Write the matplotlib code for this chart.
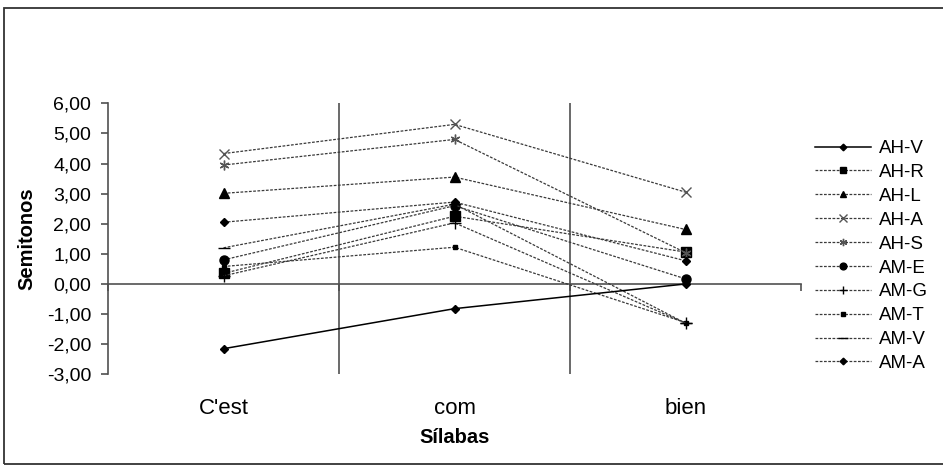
import matplotlib
matplotlib.use('Agg')
import matplotlib.pyplot as plt
import matplotlib.transforms as mtransforms
from matplotlib.patches import Rectangle

plt.rcParams['font.family'] = ['Liberation Sans', 'DejaVu Sans']

silabas = ["C'est", 'com', 'bien']
series = ['AH-V', 'AH-R', 'AH-L', 'AH-A', 'AH-S', 'AM-E', 'AM-G', 'AM-T', 'AM-V', 'AM-A']

ah_v = [-2.15, -0.82, 0.00]
ah_r = [0.35, 2.25, 1.06]
ah_l = [3.01, 3.55, 1.81]
ah_a = [4.33, 5.30, 3.05]
ah_s = [3.95, 4.80, 1.04]
am_e = [0.80, 2.60, 0.17]
am_g = [0.27, 2.03, -1.30]
am_t = [0.58, 1.22, -1.28]
am_v = [1.20, 2.65, -1.30]
am_a = [2.05, 2.72, 0.77]

values = [ah_v, ah_r, ah_l, ah_a, ah_s, am_e, am_g, am_t, am_v, am_a]

# marker, size, color
styles = {
    'AH-V': ('D', 4.5, 'black'),
    'AH-R': ('s', 6.5, 'black'),
    'AH-L': ('^', 6.5, 'black'),
    'AH-A': ('x', 7, '#555555'),
    'AH-S': ((6, 2, 0), 7, '#555555'),
    'AM-E': ('o', 6.5, 'black'),
    'AM-G': ('+', 8, 'black'),
    'AM-T': ('s', 3, 'black'),
    'AM-V': ('_', 9, 'black'),
    'AM-A': ('D', 4.5, 'black'),
}

fig = plt.figure(figsize=(9.43, 4.66), dpi=100)
ax = fig.add_axes([108 / 943, 1 - 374.3 / 466, 693 / 943, 271 / 466])

x = list(range(1, len(silabas) + 1))
for name, vals in zip(series, values):
    mk, ms, col = styles[name]
    if name == 'AH-V':
        ax.plot(x, vals, color='black', lw=1.1, marker=mk, ms=ms,
                mfc=col, mec=col, label=name, zorder=4)
    else:
        ax.plot(x, vals, color='#3a3a3a', lw=0.9, dashes=(2.2, 1.2),
                marker=mk, ms=ms, mfc=col, mec=col, mew=1.0,
                label=name, zorder=3)

axis_col = '#505050'
ax.set_xlim(0.5, 3.5)
ax.set_ylim(-3, 6)
for b in [1.5, 2.5]:
    ax.axvline(b, color=axis_col, lw=1.2, zorder=1)

ax.spines['top'].set_visible(False)
ax.spines['right'].set_visible(False)
ax.spines['left'].set_color(axis_col)
ax.spines['left'].set_linewidth(1.2)
ax.spines['bottom'].set_position(('data', 0))
ax.spines['bottom'].set_color(axis_col)
ax.spines['bottom'].set_linewidth(1.2)

ax.set_yticks(range(-3, 7))
ax.set_yticklabels([f'{v:.2f}'.replace('.', ',') for v in range(-3, 7)], fontsize=14)
ax.tick_params(axis='y', direction='out', length=5, width=1.2, color=axis_col, pad=7)
ax.set_xticks([0.5, 1.5, 2.5, 3.5])
ax.set_xticklabels([])
ax.tick_params(axis='x', direction='out', length=5, width=1.2, color=axis_col)

trans = mtransforms.blended_transform_factory(ax.transData, ax.transAxes)
for i, s in enumerate(silabas):
    ax.text(i + 1, -0.125, s, transform=trans, ha='center', va='center', fontsize=16)
ax.text(2, -0.235, 'Sílabas', transform=trans, ha='center', va='center',
        fontsize=14.5, fontweight='bold')

ax.set_ylabel('Semitonos', fontsize=14.5, fontweight='bold')
ax.yaxis.set_label_coords(-0.104, 0.5)

ax.legend(loc='upper left', bbox_to_anchor=(815 / 943, 1 - 140 / 466),
          bbox_transform=fig.transFigure, frameon=False, fontsize=13.5,
          handlelength=3.0, handletextpad=0.4, labelspacing=0.36,
          markerscale=0.75, borderpad=0, borderaxespad=0)

fig.patches.append(Rectangle((3.5 / 943, 2 / 466), 1.2, 456.5 / 466,
                             transform=fig.transFigure, fill=False,
                             ec='#333333', lw=1.3))

fig.savefig('out.png', dpi=100)
